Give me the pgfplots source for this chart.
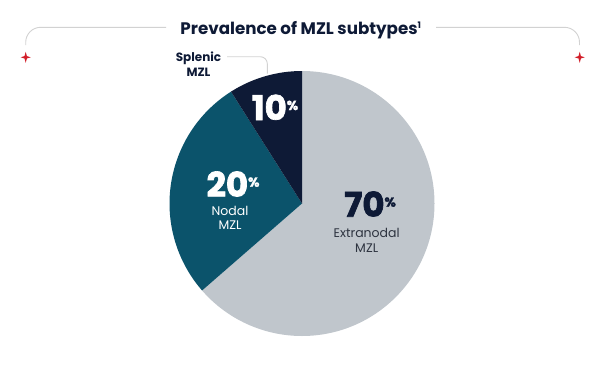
\documentclass[border=0pt]{standalone}
\usepackage{pgfplots}
\pgfplotsset{compat=1.18}
\usepackage{pgfplotstable}
\usepackage{fontspec}
\setmainfont{Poppins}
\newfontfamily\heavy{Poppins}[BoldFeatures={FakeBold=2}]
\definecolor{navy}{HTML}{0E1A36}
\definecolor{mzlteal}{HTML}{0B536B}
\definecolor{pgray}{HTML}{C0C6CC}
\definecolor{linegray}{HTML}{D2D2D2}
\definecolor{starred}{HTML}{D21F2A}
\definecolor{textgray}{HTML}{2E3440}

% drawn share of each wedge (as measured in the reference) and its printed label
\pgfplotstableread{
share label
63.6 70
27.4 20
9.0 10
}\pietable

\begin{document}
\begin{tikzpicture}
\pgfplotstablegetelem{0}{share}\of\pietable \pgfmathsetmacro{\sA}{\pgfplotsretval}
\pgfplotstablegetelem{1}{share}\of\pietable \pgfmathsetmacro{\sB}{\pgfplotsretval}
\pgfplotstablegetelem{2}{share}\of\pietable \pgfmathsetmacro{\sC}{\pgfplotsretval}
\pgfmathsetmacro{\aZ}{90}
\pgfmathsetmacro{\aA}{\aZ-3.6*\sA}
\pgfmathsetmacro{\aB}{\aA-3.6*\sB}
\pgfmathsetmacro{\aC}{\aB-3.6*\sC}
\begin{axis}[
  width=605pt, height=368pt, scale only axis,
  xmin=0, xmax=605, ymin=0, ymax=368,
  hide axis, clip=false,
]
\def\cx{302}\def\cy{164.5}\def\R{132.5pt}
\fill[pgray] (axis cs:\cx,\cy) -- ++(\aZ:\R) arc[start angle=\aZ, end angle=\aA, radius=\R] -- cycle;
\fill[mzlteal] (axis cs:\cx,\cy) -- ++(\aA:\R) arc[start angle=\aA, end angle=\aB, radius=\R] -- cycle;
\fill[navy] (axis cs:\cx,\cy) -- ++(\aB:\R) arc[start angle=\aB, end angle=\aC, radius=\R] -- cycle;

% title and bracket
\node[anchor=base, text=navy, font=\bfseries\fontsize{16.7}{16.7}\selectfont] at (axis cs:301,368-34.5) {Prevalence of MZL subtypes\textsuperscript{\fontsize{9}{9}\selectfont 1}};
\draw[linegray, line width=0.9pt, rounded corners=15pt] (axis cs:25.7,368-45) -- (axis cs:25.7,368-27.3) -- (axis cs:166,368-27.3);
\draw[linegray, line width=0.9pt, rounded corners=15pt] (axis cs:436,368-27.3) -- (axis cs:579.5,368-27.3) -- (axis cs:579.5,368-45);
\fill[starred] (axis cs:25.7,368-57.3) +(0,5.5pt) -- +(1.2pt,1.2pt) -- +(5pt,0) -- +(1.2pt,-1.2pt) -- +(0,-5.5pt) -- +(-1.2pt,-1.2pt) -- +(-5pt,0) -- +(-1.2pt,1.2pt) -- cycle;
\fill[starred] (axis cs:579.7,368-57.3) +(0,5.5pt) -- +(1.2pt,1.2pt) -- +(5pt,0) -- +(1.2pt,-1.2pt) -- +(0,-5.5pt) -- +(-1.2pt,-1.2pt) -- +(-5pt,0) -- +(-1.2pt,1.2pt) -- cycle;

% splenic label with leader
\draw[linegray, line width=0.9pt, rounded corners=7pt] (axis cs:227,368-56.7) -- (axis cs:267.3,368-56.7) -- (axis cs:267.3,368-73.5);
\node[anchor=base, text=navy, font=\bfseries\fontsize{12}{12}\selectfont] at (axis cs:198.5,368-61.7) {Splenic};
\node[anchor=base, text=navy, font=\bfseries\fontsize{12}{12}\selectfont] at (axis cs:198.5,368-76) {MZL};

% percentages
\node[anchor=base, text=white, inner sep=0pt] at (axis cs:275,368-120) {\heavy\bfseries\fontsize{34}{34}\selectfont 10\raisebox{10pt}{\fontsize{13}{13}\selectfont\%}};
\node[anchor=base, text=white, inner sep=0pt] at (axis cs:233,368-196.7) {\heavy\bfseries\fontsize{34}{34}\selectfont 20\raisebox{10pt}{\fontsize{13}{13}\selectfont\%}};
\node[anchor=base, text=navy, inner sep=0pt] at (axis cs:370,368-216.7) {\heavy\bfseries\fontsize{34}{34}\selectfont 70\raisebox{10pt}{\fontsize{13}{13}\selectfont\%}};

\node[anchor=base, inner sep=0pt, text=white, font=\fontsize{12.5}{12.5}\selectfont] at (axis cs:230,368-215) {Nodal};
\node[anchor=base, inner sep=0pt, text=white, font=\fontsize{12.5}{12.5}\selectfont] at (axis cs:230,368-229.3) {MZL};
\node[anchor=base, inner sep=0pt, text=textgray, font=\fontsize{12.5}{12.5}\selectfont] at (axis cs:366.7,368-237) {Extranodal};
\node[anchor=base, inner sep=0pt, text=textgray, font=\fontsize{12.5}{12.5}\selectfont] at (axis cs:366.7,368-252) {MZL};
\end{axis}
\pgfresetboundingbox
\path (current axis.south west) rectangle (current axis.north east);
\end{tikzpicture}
\end{document}
